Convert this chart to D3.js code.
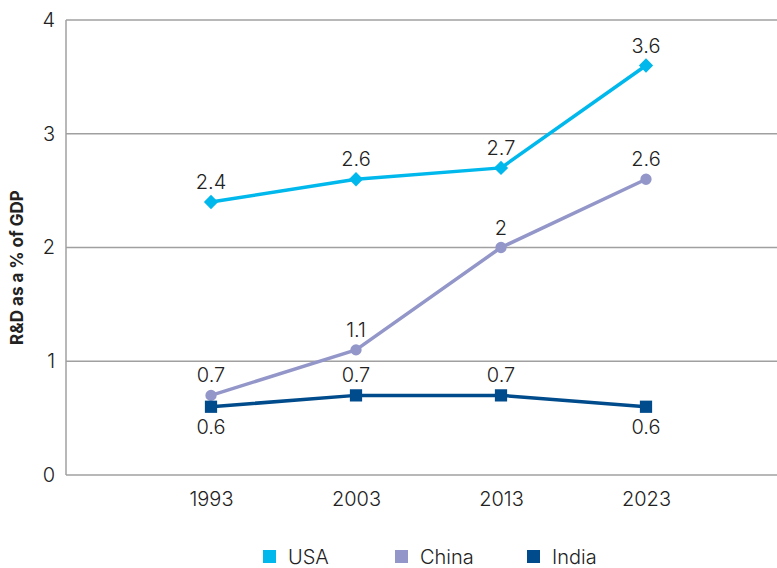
<!DOCTYPE html>
<html>
<head>
<meta charset="utf-8">
<script src="https://cdn.jsdelivr.net/npm/d3@7"></script>
<style>
  body { margin: 0; background: #fff; }
  svg { display: block; font-family: Inter, "Noto Sans", sans-serif; }
</style>
</head>
<body>
<svg id="chart" width="777" height="568"></svg>
<script>
// R&D spending as a share of GDP, by country
const years = ["1993", "2003", "2013", "2023"];
const usa = [2.4, 2.6, 2.7, 3.6];
const china = [0.7, 1.1, 2, 2.6];
const india = [0.6, 0.7, 0.7, 0.6];
const yTicks = [0, 1, 2, 3, 4];

const series = [
  { name: "USA", values: usa, color: "#00b8ec", symbol: d3.symbolDiamond2, size: 130, below: [false, false, false, false] },
  { name: "China", values: china, color: "#9396c8", symbol: d3.symbolCircle, size: 100, below: [false, false, false, false] },
  { name: "India", values: india, color: "#004b8b", symbol: d3.symbolSquare, size: 150, below: [true, false, false, true] }
];

const svg = d3.select("#chart");
const plotLeft = 66, plotRight = 777, plotTop = 20, plotBottom = 475;

// one step of padding on each side of the years
const x = d3.scalePoint().domain(years).range([plotLeft + 145, plotLeft + 145 * 4]);
const y = d3.scaleLinear().domain([0, 4]).range([plotBottom, plotTop]);

// horizontal grid
svg.append("g")
  .selectAll("line")
  .data(yTicks)
  .join("line")
  .attr("x1", plotLeft).attr("x2", plotRight)
  .attr("y1", d => y(d)).attr("y2", d => y(d))
  .attr("stroke", "#a0a0a0").attr("stroke-width", 1.5);

// vertical axis line
svg.append("line")
  .attr("x1", plotLeft).attr("x2", plotLeft)
  .attr("y1", plotTop).attr("y2", plotBottom)
  .attr("stroke", "#a0a0a0").attr("stroke-width", 1.5);

// y tick labels
const yAxis = d3.axisLeft(y).tickValues(yTicks).tickSize(0).tickPadding(11).tickFormat(d3.format("d"));
const gy = svg.append("g").attr("transform", `translate(${plotLeft},0)`).call(yAxis);
gy.select(".domain").remove();
gy.selectAll("text").attr("font-size", 20).attr("fill", "#222").attr("font-family", "Inter, sans-serif").attr("font-weight", 300);

// x tick labels
const xAxis = d3.axisBottom(x).tickSize(0).tickPadding(17);
const gx = svg.append("g").attr("transform", `translate(0,${plotBottom})`).call(xAxis);
gx.select(".domain").remove();
gx.selectAll("text").attr("font-size", 20).attr("fill", "#222").attr("font-family", "Inter, sans-serif").attr("font-weight", 300);

// y axis title
svg.append("text")
  .attr("transform", `translate(23,${(plotTop + plotBottom) / 2 + 20}) rotate(-90)`)
  .attr("text-anchor", "middle")
  .attr("font-size", 17)
  .attr("font-weight", 700)
  .attr("fill", "#222")
  .text("R&D as a % of GDP");

const line = d3.line().x((d, i) => x(years[i])).y(d => y(d));

series.forEach(s => {
  const g = svg.append("g");
  g.append("path")
    .attr("d", line(s.values))
    .attr("fill", "none")
    .attr("stroke", s.color)
    .attr("stroke-width", 3.5)
    .attr("stroke-linejoin", "round");
  g.selectAll("path.m")
    .data(s.values)
    .join("path")
    .attr("class", "m")
    .attr("transform", (d, i) => `translate(${x(years[i])},${y(d)})`)
    .attr("d", d3.symbol().type(s.symbol).size(s.size))
    .attr("fill", s.color);
  g.selectAll("text")
    .data(s.values)
    .join("text")
    .attr("x", (d, i) => x(years[i]))
    .attr("y", (d, i) => s.below[i] ? y(d) + 27 : y(d) - 13)
    .attr("text-anchor", "middle")
    .attr("font-size", 20)
    .attr("font-weight", 300)
    .attr("fill", "#222")
    .text(d => String(d));
});

// legend
const legendX = [263, 395, 527];
const lg = svg.append("g").selectAll("g").data(series).join("g")
  .attr("transform", (d, i) => `translate(${legendX[i]},550)`);
lg.append("rect").attr("width", 13).attr("height", 13).attr("fill", d => d.color);
lg.append("text").attr("x", 25).attr("y", 14).attr("font-size", 20).attr("font-weight", 300)
  .attr("fill", "#222").text(d => d.name);
</script>
</body>
</html>
